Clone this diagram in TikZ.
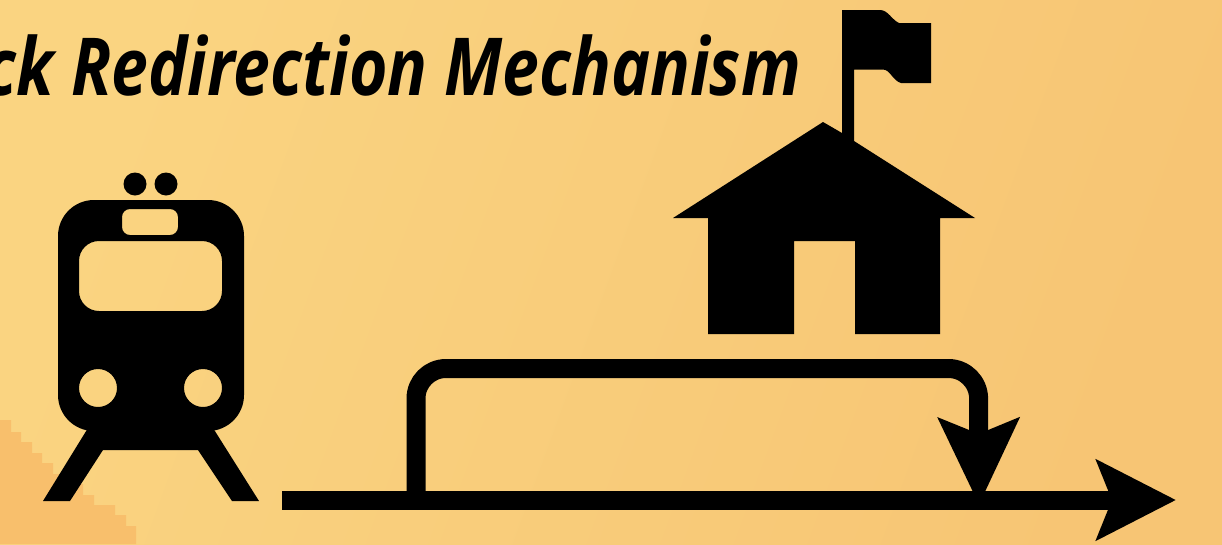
\documentclass[tikz,border=0pt]{standalone}
\usepackage{fontspec}
\setmainfont{Open Sans}
\usetikzlibrary{arrows.meta}
\definecolor{bgA}{HTML}{FAD481}
\definecolor{bgB}{HTML}{F7C574}
\definecolor{bgCorner}{HTML}{F8BF6C}
\tikzset{
  icon/.style={fill=black,draw=none},
  trackline/.style={draw=black,line width=19pt},
  bigtip/.style={-{Stealth[length=79pt,width=79pt,inset=15pt]}},
  droptip/.style={-{Stealth[length=86pt,width=79pt,inset=15pt]}},
  titletext/.style={font=\fontsize{80}{90}\selectfont\bfseries\itshape,text=black,inner sep=0pt,anchor=base east}
}
\begin{document}
\begin{tikzpicture}[x=1pt,y=-1pt]
\useasboundingbox (0,0) rectangle (1222,544);
\clip (0,0) rectangle (1222,544);
% background
\shade[left color=bgA,right color=bgB,shading angle=70] (0,0) rectangle (1222,544);
\fill[bgCorner] (0,420) -- (11,420) -- (11,432) -- (21,432) -- (21,442) -- (32,442) -- (32,453) -- (42,453)
  -- (42,463) -- (53,463) -- (53,474) -- (72,474) -- (72,484) -- (83,484) -- (83,495) -- (94,495)
  -- (94,505) -- (115,505) -- (115,515) -- (126,515) -- (126,526) -- (136,526) -- (136,544) -- (0,544) -- cycle;
% title
\node[titletext] (title) at (801,95) {\scalebox{0.825}[1]{ck Redirection Mechanism}};
% train
\path[icon,even odd rule]
  [rounded corners=36pt] (58,200) rectangle (244,431)
  [rounded corners=8pt] (122,209) rectangle (178,235)
  [rounded corners=20pt] (79,241) rectangle (222,311)
  [sharp corners] (98,388) circle[radius=19] (203,388) circle[radius=19];
\path[icon] (135,184) circle[radius=11.5];
\path[icon] (166,184) circle[radius=11.5];
\path[icon] (88,428) -- (43,501) -- (70,501) -- (103,450) -- (198,450) -- (232,501) -- (259,501) -- (213,428) -- cycle;
% house
\path[icon] (823,122) -- (842,133) -- (842,10) -- (880,10) .. controls (888,10) and (892,20) .. (899,23)
  -- (931,23) -- (931,83) -- (901,83) .. controls (893,81) and (890,69.5) .. (883,69.5) -- (854,69.5) -- (854,141)
  -- (975,218) -- (940,218) -- (940,334) -- (855,334) -- (855,241) -- (794,241) -- (794,334) -- (708,334)
  -- (708,218) -- (673,218) -- cycle;
% track
\coordinate (trackStart) at (282,500);
\coordinate (trackEnd) at (1176,500);
\coordinate (loopStart) at (416,500);
\coordinate (loopCorner) at (978.5,368.5);
\coordinate (loopEnd) at (979,505);
\draw[trackline,bigtip] (trackStart) -- (trackEnd);
\draw[trackline,droptip,rounded corners=30pt] (loopStart) |- (loopCorner) -- (loopEnd);
\end{tikzpicture}
\end{document}
